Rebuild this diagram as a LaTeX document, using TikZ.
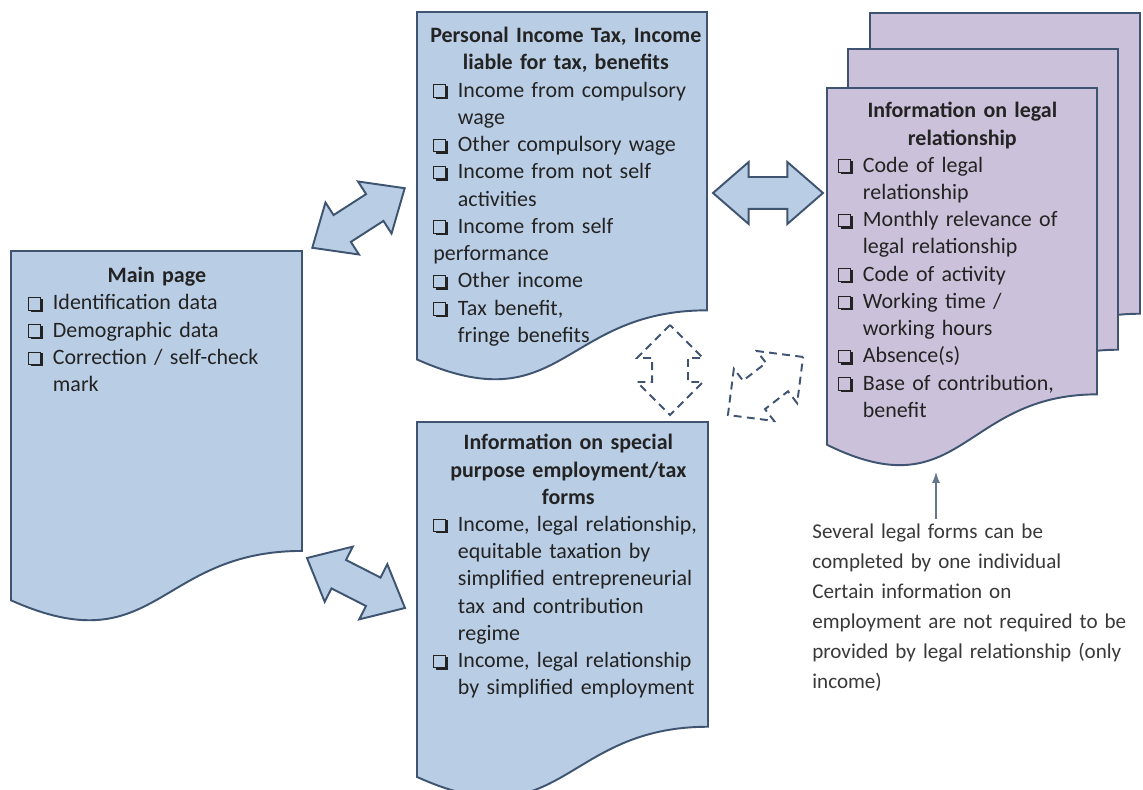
\documentclass[tikz,border=0pt]{standalone}
\usepackage{fontspec}
\setmainfont{Carlito}
\usetikzlibrary{shapes.arrows,arrows.meta}

\definecolor{docblue}{RGB}{185,205,229}
\definecolor{docpurple}{RGB}{204,193,218}
\definecolor{edgeblue}{RGB}{62,84,112}
\definecolor{textgray}{RGB}{35,35,35}

% shadowed check box, as in the printed form
\newcommand{\chkbox}{\tikz[baseline=0pt]{\draw[line width=0.5pt] (0pt,0pt) rectangle (6.8pt,7.1pt); \draw[line width=1.3pt] (1pt,-0.45pt) -- (7.3pt,-0.45pt) -- (7.3pt,6.3pt);}}
\newcommand{\chkitem}[1]{\par\noindent\hangindent=14pt\hangafter=1\makebox[14pt][l]{\chkbox}#1}
% page with a wavy lower edge: left, top, width, height
\newcommand{\docpath}[4]{(#1,#2) -- ({#1+#3},#2) -- ({#1+#3},{#2+0.802*#4}) .. controls ({#1+0.5*#3},{#2+0.802*#4}) and ({#1+0.5*#3},{#2+1.1075*#4}) .. (#1,{#2+0.934*#4}) -- cycle}

\begin{document}
\begin{tikzpicture}[x=0.02cm, y=-0.02cm,
	doc/.style={draw=edgeblue, fill=docblue, line width=1.1pt},
	legaldoc/.style={draw=edgeblue, fill=docpurple, line width=1.1pt},
	boxtext/.style={anchor=north west, inner sep=0pt, align=left, text=textgray, font=\fontsize{12.5pt}{15.5pt}\selectfont},
	notetext/.style={anchor=north west, inner sep=0pt, align=left, text=textgray!90, font=\fontsize{12pt}{17pt}\selectfont},
	blockarrow/.style={double arrow, draw=edgeblue, fill=docblue, line width=1.1pt, inner xsep=0pt, inner ysep=0.3cm,
		minimum width=0pt, minimum height=2.2cm, double arrow head extend=0.3cm, double arrow tip angle=82},
	dasharrow/.style={double arrow, draw=edgeblue, line width=1.1pt, dash pattern=on 4.5pt off 3pt, inner xsep=0pt, inner ysep=0.34cm,
		minimum width=0pt, double arrow head extend=0.3cm, double arrow tip angle=90},
	notearrow/.style={draw=edgeblue!80, line width=0.6pt, -{Latex[length=2.2mm, width=1.6mm]}}]
	\fill[white] (0,0) rectangle (1143,790);
	\useasboundingbox (0,0) rectangle (1143,790);

	% pages
	\draw[doc] \docpath{11}{251}{291}{374};
	\draw[doc] \docpath{417}{12}{290}{372};
	\draw[doc] \docpath{417}{422}{291}{380};
	\draw[legaldoc] \docpath{870}{13}{270}{375};
	\draw[legaldoc] \docpath{848}{49}{270}{375};
	\draw[legaldoc] \docpath{827}{88}{270}{382};

	\node[boxtext, text width=5.14cm] (main) at (28,267) {{\centering\bfseries Main page\par}
		\chkitem{Identification data}
		\chkitem{Demographic data}
		\chkitem{Correction / self-check\newline mark}\par};
	\node[boxtext, text width=5.3cm] (pit) at (433,27) {{\bfseries\noindent\makebox[\linewidth]{Personal Income Tax, Income}\par
		\noindent\makebox[\linewidth]{liable for tax, benefits}\par}
		\chkitem{Income from compulsory\newline wage}
		\chkitem{Other compulsory wage}
		\chkitem{Income from not self\newline activities}
		\par\noindent\makebox[14pt][l]{\chkbox}Income from self\newline performance
		\chkitem{Other income}
		\chkitem{Tax benefit,\newline fringe benefits}\par};
	\node[boxtext, text width=4.96cm] (legal) at (838,102) {{\centering\bfseries Information on legal\\ relationship\par}
		\chkitem{Code of legal\newline relationship}
		\chkitem{Monthly relevance of\newline legal relationship}
		\chkitem{Code of activity}
		\chkitem{Working time /\newline working hours}
		\chkitem{Absence(s)}
		\chkitem{Base of contribution,\newline benefit}\par};
	\node[boxtext, text width=5.4cm] (special) at (433,434) {{\centering\bfseries Information on special\\ purpose employment/tax\\ forms\par}
		\chkitem{Income, legal relationship,\newline equitable taxation by\newline simplified entrepreneurial\newline tax and contribution\newline regime}
		\chkitem{Income, legal relationship\newline by simplified employment}\par};
	\node[notetext, text width=6.5cm] (note) at (812,524) {Several legal forms can be\\ completed by one individual\\ Certain information on\\ employment are not required to be\\ provided by legal relationship (only\\ income)};

	% links between the pages
	\node[blockarrow, rotate=32.8] (pitlink) at (358.5,218) {};
	\node[blockarrow, rotate=-27] (speciallink) at (356,583) {};
	\node[blockarrow] (legallink) at (768,193) {};
	\node[dasharrow, minimum height=1.8cm, rotate=90] (pitspecial) at (670,370) {};
	\node[dasharrow, minimum height=1.9cm, rotate=37.7] (speciallegal) at (765.5,386) {};

	\coordinate (legaltip) at (936,472);
	\draw[notearrow] ([yshift=3pt]legaltip |- note.north) -- (legaltip);
\end{tikzpicture}
\end{document}
